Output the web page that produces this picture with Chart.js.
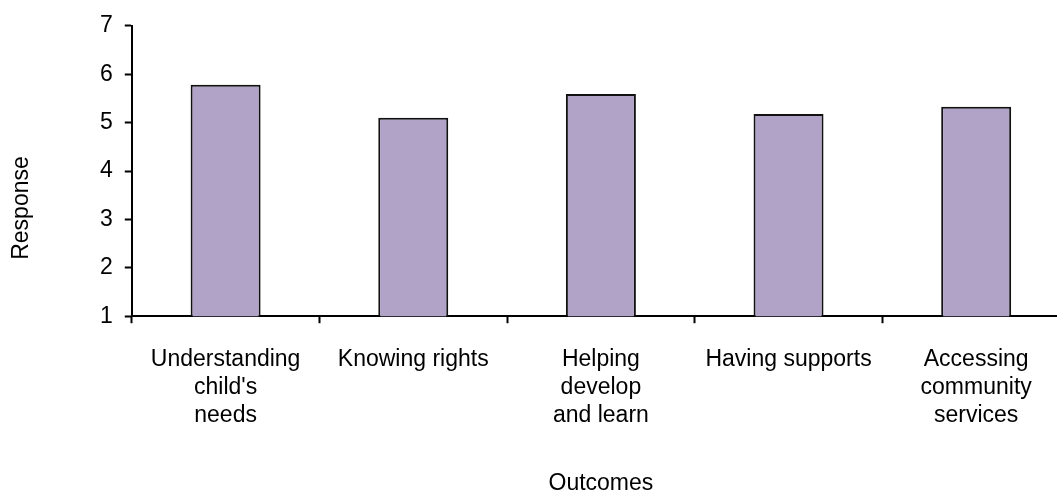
<!DOCTYPE html>
<html>
<head>
<meta charset="utf-8">
<script src="https://cdn.jsdelivr.net/npm/chart.js@4"></script>
<style>
  html, body { margin: 0; padding: 0; background: #fff; overflow: hidden; }
  #wrap { width: 1080px; height: 495px; position: relative; }
</style>
</head>
<body>
<div id="wrap"><canvas id="myChart"></canvas></div>
<script>
// outcome categories (multi-line labels as on the original)
var outcomes = [
    ["Understanding", "child's", "needs"],
    ["Knowing rights"],
    ["Helping", "develop", "and learn"],
    ["Having supports"],
    ["Accessing", "community", "services"]
];
var responses = [5.78, 5.10, 5.59, 5.18, 5.33];
var yTicks = [1, 2, 3, 4, 5, 6, 7];

var fontFamily = "'Liberation Sans', Arial, sans-serif";

// y-axis title sits a bit below the middle in the original, so draw it by hand
var yTitlePlugin = {
    id: "yTitle",
    afterDraw: function (chart) {
        var ctx = chart.ctx;
        var area = chart.chartArea;
        ctx.save();
        ctx.translate(28, (area.top + area.bottom) / 2 + 37);
        ctx.rotate(-Math.PI / 2);
        ctx.font = "23px " + fontFamily;
        ctx.fillStyle = "#000";
        ctx.textAlign = "center";
        ctx.textBaseline = "alphabetic";
        ctx.fillText("Response", 0, 0);
        ctx.restore();
    }
};

new Chart("myChart", {
    type: "bar",
    data: {
        labels: outcomes,
        datasets: [{
            data: responses,
            backgroundColor: "#b1a2c7",
            borderColor: "#111",
            borderWidth: 2,
            barPercentage: 0.373,
            categoryPercentage: 1
        }]
    },
    options: {
        responsive: true,
        maintainAspectRatio: false,
        animation: false,
        layout: { padding: { left: 88, right: 10, top: 21, bottom: 0 } },
        plugins: {
            legend: { display: false },
            tooltip: { enabled: false }
        },
        scales: {
            x: {
                grid: {
                    offset: true,
                    drawOnChartArea: false,
                    drawTicks: true,
                    tickLength: 7,
                    tickWidth: 2,
                    tickColor: "#000"
                },
                border: { display: true, color: "#000", width: 2 },
                ticks: {
                    color: "#000",
                    font: { family: fontFamily, size: 23, lineHeight: 1.2 },
                    padding: 23,
                    maxRotation: 0,
                    autoSkip: false
                },
                title: {
                    display: true,
                    text: "Outcomes",
                    color: "#000",
                    font: { family: fontFamily, size: 23, lineHeight: 1 },
                    padding: { top: 20, bottom: 0 }
                }
            },
            y: {
                min: yTicks[0],
                max: yTicks[yTicks.length - 1],
                afterBuildTicks: function (axis) {
                    axis.ticks = yTicks.map(function (v) { return { value: v }; });
                },
                grid: {
                    drawOnChartArea: false,
                    drawTicks: true,
                    tickLength: 7,
                    tickWidth: 2,
                    tickColor: "#000"
                },
                border: { display: true, color: "#000", width: 2 },
                ticks: {
                    color: "#000",
                    font: { family: fontFamily, size: 23 },
                    padding: 12
                }
            }
        }
    },
    plugins: [yTitlePlugin]
});
</script>
</body>
</html>
